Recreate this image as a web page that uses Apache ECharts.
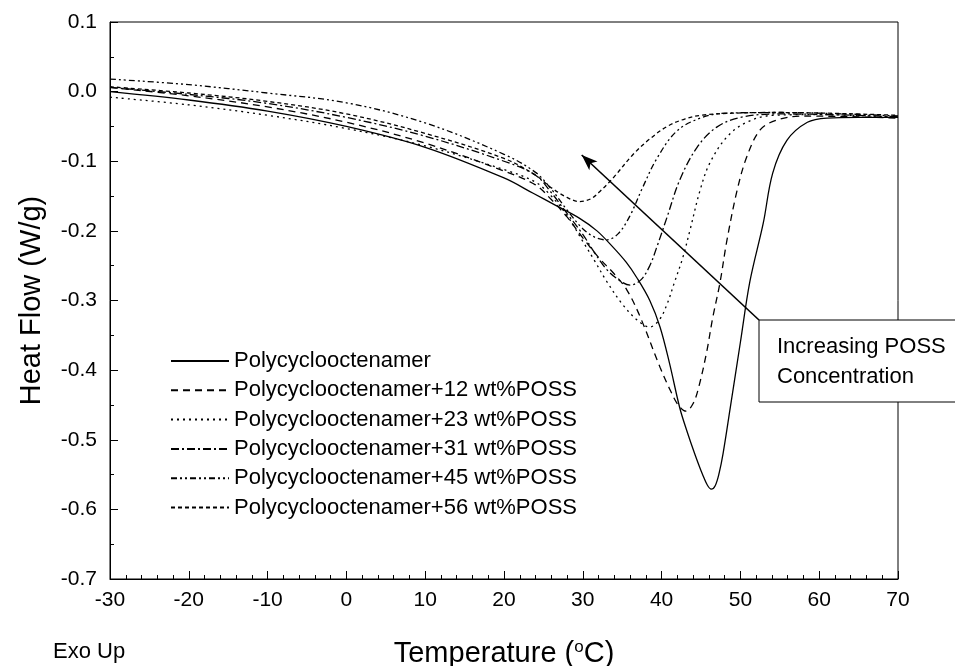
<!DOCTYPE html>
<html>
<head>
<meta charset="utf-8">
<style>
  html, body { margin: 0; padding: 0; background: #fff; }
  #container { width: 955px; height: 666px; }
</style>
<script src="https://cdn.jsdelivr.net/npm/echarts/dist/echarts.min.js"></script>
</head>
<body>
<div id="container"></div>
<script>
// DSC curves: temperature (°C) and heat flow (W/g)
var seriesNames = [
  'Polycyclooctenamer',
  'Polycyclooctenamer+12 wt%POSS',
  'Polycyclooctenamer+23 wt%POSS',
  'Polycyclooctenamer+31 wt%POSS',
  'Polycyclooctenamer+45 wt%POSS',
  'Polycyclooctenamer+56 wt%POSS'
];

var neatT = [-30, -20, -10, 0, 10, 20, 23.7, 26.5, 29.6, 31.8, 33.8, 35.5, 36.9, 38.5, 39.8, 41, 42.3, 43.2, 44.2, 45.2, 45.8, 46.3, 46.8, 47.3, 47.8, 48.7, 50, 51.2, 52.9, 54.1, 55.9, 58.5, 61, 65, 70];
var neatHF = [0, -0.012, -0.028, -0.05, -0.08, -0.124, -0.146, -0.163, -0.182, -0.2, -0.223, -0.245, -0.268, -0.3, -0.338, -0.39, -0.454, -0.487, -0.52, -0.55, -0.565, -0.571, -0.566, -0.548, -0.52, -0.455, -0.36, -0.273, -0.189, -0.117, -0.07, -0.044, -0.038, -0.037, -0.037];

var p12T = [-30, -20, -10, 0, 10, 20, 24, 26, 28, 30, 32, 34, 35.6, 37.3, 39.8, 41.1, 42.1, 43.1, 44, 44.7, 45.7, 46.5, 47.4, 48.3, 49.6, 50.8, 52.5, 54.6, 58, 70];
var p12HF = [0.006, -0.006, -0.022, -0.044, -0.074, -0.114, -0.134, -0.155, -0.18, -0.21, -0.238, -0.262, -0.285, -0.324, -0.396, -0.429, -0.45, -0.459, -0.448, -0.425, -0.375, -0.324, -0.275, -0.213, -0.141, -0.094, -0.055, -0.041, -0.035, -0.038];

var p23T = [-30, -20, -10, 0, 10, 20, 24, 26, 28, 30, 31.5, 33, 35, 36.9, 38.5, 39.7, 40.7, 41.6, 42.7, 43.6, 44.9, 46.1, 48.3, 50.8, 54.1, 60, 70];
var p23HF = [-0.008, -0.019, -0.034, -0.053, -0.078, -0.112, -0.13, -0.15, -0.178, -0.215, -0.243, -0.272, -0.305, -0.328, -0.338, -0.328, -0.305, -0.275, -0.238, -0.199, -0.141, -0.103, -0.065, -0.044, -0.034, -0.033, -0.037];

var p31T = [-30, -20, -10, 0, 10, 20, 24, 26, 28, 30, 31.3, 33, 34.5, 36, 37.4, 38.5, 39.4, 40.7, 42.3, 44.5, 47, 50, 55, 70];
var p31HF = [0.006, -0.004, -0.017, -0.037, -0.064, -0.1, -0.12, -0.145, -0.175, -0.205, -0.228, -0.255, -0.27, -0.278, -0.27, -0.25, -0.223, -0.18, -0.127, -0.08, -0.051, -0.037, -0.032, -0.036];

var p45T = [-30, -20, -10, 0, 10, 20, 24, 26, 28, 30, 31.5, 33, 34.5, 36, 37.5, 39.4, 41.9, 44.9, 48, 55, 70];
var p45HF = [0.018, 0.01, -0.002, -0.016, -0.045, -0.09, -0.116, -0.14, -0.17, -0.197, -0.209, -0.213, -0.204, -0.178, -0.14, -0.096, -0.057, -0.038, -0.031, -0.03, -0.035];

var p56T = [-30, -20, -10, 0, 10, 20, 24, 26, 28, 29.6, 31, 32.2, 34, 36.4, 38.5, 40.7, 43, 45, 49, 55, 70];
var p56HF = [0.007, -0.002, -0.014, -0.032, -0.06, -0.096, -0.12, -0.138, -0.152, -0.158, -0.154, -0.143, -0.122, -0.09, -0.068, -0.05, -0.039, -0.034, -0.031, -0.03, -0.034];

// arrow "Increasing POSS Concentration" (data coords: tail, head)
var arrowTail = [52.36, -0.328];
var arrowHead = [29.86, -0.091];

// axis ranges
var xMin = -30, xMax = 70, xStep = 10;
var yMin = -0.7, yMax = 0.1, yStep = 0.1;

var allT = [neatT, p12T, p23T, p31T, p45T, p56T];
var allHF = [neatHF, p12HF, p23HF, p31HF, p45HF, p56HF];
var dashTypes = ['solid', [7, 5], [2, 4], [8, 3, 2, 3], [6, 3, 2, 3, 2, 3], [4, 3]];

var font = 'Liberation Sans, Arial, sans-serif';

var dom = document.getElementById('container');
var myChart = echarts.init(dom, null, { renderer: 'canvas' });

function pairs(ts, hs) {
  var out = [];
  for (var i = 0; i < ts.length; i++) out.push([ts[i], hs[i]]);
  return out;
}

var mySeries = [];
for (var i = 0; i < seriesNames.length; i++) {
  var s = {
    name: seriesNames[i],
    type: 'line',
    data: pairs(allT[i], allHF[i]),
    smooth: 0.35,
    symbol: 'none',
    showSymbol: false,
    lineStyle: { color: '#000', width: 1.3, type: dashTypes[i] },
    itemStyle: { color: '#000' },
    z: 3
  };
  if (i === 0) {
    s.markLine = {
      silent: true,
      animation: false,
      label: { show: false },
      lineStyle: { color: '#000', width: 1.6, type: 'solid' },
      data: [[
        { coord: arrowTail, symbol: 'none' },
        { coord: arrowHead, symbol: 'arrow', symbolSize: [9, 16] }
      ]]
    };
  }
  mySeries.push(s);
}

var option = {
  animation: false,
  backgroundColor: '#fff',
  textStyle: { fontFamily: font, color: '#000' },
  grid: {
    left: 110, right: 57, top: 22, bottom: 87,
    show: true, borderColor: '#000', borderWidth: 1,
    containLabel: false, outerBoundsMode: 'none'
  },
  legend: {
    data: seriesNames,
    orient: 'vertical',
    left: 165,
    top: 345,
    itemWidth: 58,
    itemHeight: 14,
    itemGap: 7.3,
    selectedMode: false,
    itemStyle: { opacity: 0 },
    textStyle: { fontSize: 22, color: '#000', fontFamily: font, lineHeight: 22 }
  },
  xAxis: {
    type: 'value',
    min: xMin, max: xMax, interval: xStep,
    name: 'Temperature ({sup|o}C)',
    nameLocation: 'middle',
    nameGap: 60,
    nameMoveOverlap: false,
    nameTextStyle: {
      fontSize: 29, color: '#000', fontFamily: font,
      rich: { sup: { fontSize: 17, verticalAlign: 'top', fontFamily: font, color: '#000' } }
    },
    axisLine: { onZero: false, lineStyle: { color: '#000', width: 1 } },
    axisTick: { inside: true, length: 8, lineStyle: { color: '#000' } },
    minorTick: { show: true, splitNumber: 5, length: 4, lineStyle: { color: '#000' } },
    splitLine: { show: false },
    axisLabel: { fontSize: 21, color: '#000', margin: 11, fontFamily: font }
  },
  yAxis: {
    type: 'value',
    min: yMin, max: yMax, interval: yStep,
    name: 'Heat Flow (W/g)',
    nameLocation: 'middle',
    nameGap: 64,
    nameMoveOverlap: false,
    nameTextStyle: { fontSize: 29, color: '#000', fontFamily: font },
    axisLine: { show: true, onZero: false, lineStyle: { color: '#000', width: 1 } },
    axisTick: { show: true, inside: true, length: 8, lineStyle: { color: '#000' } },
    minorTick: { show: true, splitNumber: 2, length: 4, lineStyle: { color: '#000' } },
    splitLine: { show: false },
    axisLabel: {
      fontSize: 21, color: '#000', margin: 13, fontFamily: font,
      formatter: function (v) {
        if (Math.abs(v) < 1e-9) return '0.0';
        return v.toFixed(1);
      }
    }
  },
  graphic: [
    {
      type: 'rect',
      z: 100,
      shape: { x: 759, y: 320, width: 210, height: 82 },
      style: { fill: '#fff', stroke: '#000', lineWidth: 1 }
    },
    {
      type: 'text',
      z: 101,
      x: 777, y: 332,
      style: {
        text: 'Increasing POSS\nConcentration',
        font: '22px ' + font,
        fill: '#000',
        lineHeight: 30,
        verticalAlign: 'top'
      }
    },
    {
      type: 'text',
      z: 101,
      x: 53, y: 652,
      style: {
        text: 'Exo Up',
        font: '22px ' + font,
        fill: '#000',
        verticalAlign: 'middle'
      }
    }
  ],
  series: mySeries
};

myChart.setOption(option);
window.addEventListener('resize', myChart.resize);
</script>
</body>
</html>
